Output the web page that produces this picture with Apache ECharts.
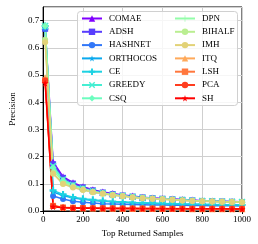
<!DOCTYPE html>
<html><head><meta charset="utf-8">
<script src="https://cdn.jsdelivr.net/npm/echarts@6/dist/echarts.min.js"></script>
<style>html,body{margin:0;padding:0;background:#fff}#c{width:258px;height:244px}</style>
</head><body><div id="c"></div>
<script>
var xValues = [10,50,100,150,200,250,300,350,400,450,500,550,600,650,700,750,800,850,900,950,1000];
var seriesNames = ['COMAE','ADSH','HASHNET','ORTHOCOS','CE','GREEDY','CSQ','DPN','BIHALF','IMH','ITQ','LSH','PCA','SH'];
var comae    = [0.68,0.180,0.126,0.104,0.089,0.078,0.070,0.064,0.059,0.055,0.051,0.048,0.046,0.044,0.042,0.040,0.038,0.037,0.036,0.035,0.034];
var adsh     = [0.67,0.172,0.122,0.101,0.087,0.076,0.068,0.062,0.057,0.053,0.050,0.047,0.045,0.043,0.041,0.039,0.037,0.036,0.035,0.034,0.033];
var hashnet  = [0.67,0.055,0.044,0.036,0.032,0.029,0.027,0.026,0.025,0.024,0.023,0.022,0.022,0.021,0.021,0.020,0.020,0.019,0.019,0.019,0.018];
var orthocos = [0.68,0.070,0.057,0.048,0.043,0.039,0.036,0.034,0.032,0.030,0.029,0.028,0.027,0.026,0.025,0.025,0.024,0.023,0.023,0.022,0.022];
var ce       = [0.68,0.076,0.061,0.051,0.045,0.041,0.038,0.035,0.033,0.031,0.030,0.029,0.028,0.027,0.026,0.025,0.025,0.024,0.023,0.023,0.022];
var greedy   = [0.68,0.165,0.116,0.096,0.083,0.073,0.066,0.060,0.056,0.052,0.049,0.046,0.044,0.042,0.040,0.039,0.037,0.036,0.035,0.034,0.033];
var csq      = [0.68,0.160,0.113,0.094,0.082,0.072,0.065,0.060,0.055,0.051,0.048,0.046,0.044,0.042,0.040,0.038,0.037,0.036,0.035,0.034,0.033];
var dpn      = [0.68,0.150,0.108,0.091,0.080,0.071,0.064,0.059,0.055,0.051,0.048,0.045,0.043,0.041,0.040,0.038,0.037,0.035,0.034,0.033,0.032];
var bihalf   = [0.63,0.140,0.101,0.088,0.078,0.070,0.064,0.059,0.055,0.051,0.048,0.045,0.043,0.041,0.039,0.038,0.036,0.035,0.034,0.033,0.032];
var imh      = [0.62,0.137,0.099,0.086,0.077,0.069,0.063,0.058,0.054,0.050,0.047,0.045,0.043,0.041,0.039,0.037,0.036,0.035,0.034,0.033,0.032];
var itq      = [0.49,0.020,0.014,0.012,0.011,0.011,0.010,0.010,0.010,0.009,0.009,0.009,0.009,0.009,0.009,0.008,0.008,0.008,0.008,0.008,0.008];
var lsh      = [0.48,0.019,0.013,0.012,0.011,0.010,0.010,0.010,0.009,0.009,0.009,0.009,0.009,0.008,0.008,0.008,0.008,0.008,0.008,0.008,0.008];
var pca      = [0.48,0.018,0.013,0.011,0.011,0.010,0.010,0.009,0.009,0.009,0.009,0.009,0.008,0.008,0.008,0.008,0.008,0.008,0.008,0.008,0.008];
var sh       = [0.47,0.016,0.012,0.011,0.010,0.010,0.009,0.009,0.009,0.009,0.008,0.008,0.008,0.008,0.008,0.008,0.008,0.008,0.008,0.007,0.007];
var xTicks = [0,200,400,600,800,1000];
var yTicks = [0.0,0.1,0.2,0.3,0.4,0.5,0.6,0.7];

var allData = [comae,adsh,hashnet,orthocos,ce,greedy,csq,dpn,bihalf,imh,itq,lsh,pca,sh];
var colors = ['#8000ff','#583dfd','#3177f8','#0aa9ee','#1dd2e2','#45eed2','#6cfdbf','#93fda9','#baee91','#e2d277','#ffa95a','#ff773d','#ff3d1f','#ff0000'];
var STAR = 'path://M50,0 L61,35 L98,35 L68,57 L79,91 L50,70 L21,91 L32,57 L2,35 L39,35 Z';
var PLUSF = 'path://M35,0 H65 V35 H100 V65 H65 V100 H35 V65 H0 V35 H35 Z';
var PLUST = 'path://M45,0 H55 V45 H100 V55 H55 V100 H45 V55 H0 V45 H45 Z';
var XF = 'path://M15,0 L50,35 L85,0 L100,15 L65,50 L100,85 L85,100 L50,65 L15,100 L0,85 L35,50 L0,15 Z';
var symbols = ['triangle','rect','circle',STAR,PLUSF,XF,'diamond',PLUST,'circle','circle','triangle','rect','circle',STAR];
var sizes = [7,6,6,7,7,7,7,7,6,6,7,6,6,7];
var font = 'Liberation Serif';

var series = seriesNames.map(function(n,i){
  return {
    name:n, type:'line',
    data: xValues.map(function(x,j){return [x, allData[i][j]];}),
    symbol: symbols[i], symbolSize: sizes[i], showSymbol:true,
    lineStyle:{width:1.5,color:colors[i]},
    itemStyle:{color:colors[i]},
    animation:false, z: 2
  };
});

function legendAt(left, names){
  return {
    orient:'vertical', left:left, top:14,
    itemGap:4.3, itemWidth:20, itemHeight:8,
    padding:0, z:20,
    textStyle:{fontFamily:font,fontSize:9,color:'#000',padding:[0,0,0,2]},
    data: names
  };
}

var chart = echarts.init(document.getElementById('c'), null, {renderer:'canvas'});
chart.setOption({
  animation:false,
  backgroundColor:'#fff',
  color: colors,
  grid:{left:36,right:16,top:7,bottom:33,show:true,borderColor:'#000',borderWidth:1,backgroundColor:'transparent'},
  graphic:[{type:'rect', left:77, top:11, shape:{width:160,height:94,r:3}, z:10,
    style:{fill:'rgba(255,255,255,0.8)',stroke:'#d0d0d0',lineWidth:1}}],
  legend:[legendAt(81, seriesNames.slice(0,7)), legendAt(174, seriesNames.slice(7))],
  xAxis:{
    type:'value', min:0, max:1000, interval:200,
    name:'Top Returned Samples', nameLocation:'middle', nameGap:17,
    nameTextStyle:{fontFamily:font,fontSize:9,color:'#000'},
    axisLine:{show:true,lineStyle:{color:'#000',width:1}},
    axisTick:{show:true,length:3,lineStyle:{color:'#000'}},
    axisLabel:{fontFamily:font,fontSize:9,color:'#000',margin:4,
      formatter:function(v){return xTicks.indexOf(v)>=0? String(v):'';}},
    splitLine:{show:true,lineStyle:{color:'#cfcfcf',width:1}}
  },
  yAxis:{
    type:'value', min:0, max:0.75, interval:0.1,
    name:'Precision', nameLocation:'middle', nameGap:22, nameRotate:90,
    nameTextStyle:{fontFamily:font,fontSize:9,color:'#000'},
    axisLine:{show:true,lineStyle:{color:'#000',width:1}},
    axisTick:{show:true,length:3,lineStyle:{color:'#000'}},
    axisLabel:{fontFamily:font,fontSize:9,color:'#000',margin:4,showMaxLabel:false,
      formatter:function(v){var r=Math.round(v*10)/10; return yTicks.indexOf(r)>=0 && Math.abs(v-r)<1e-9 ? r.toFixed(1):'';}},
    splitLine:{show:true,lineStyle:{color:'#cfcfcf',width:1}}
  },
  series: series
});
</script></body></html>
